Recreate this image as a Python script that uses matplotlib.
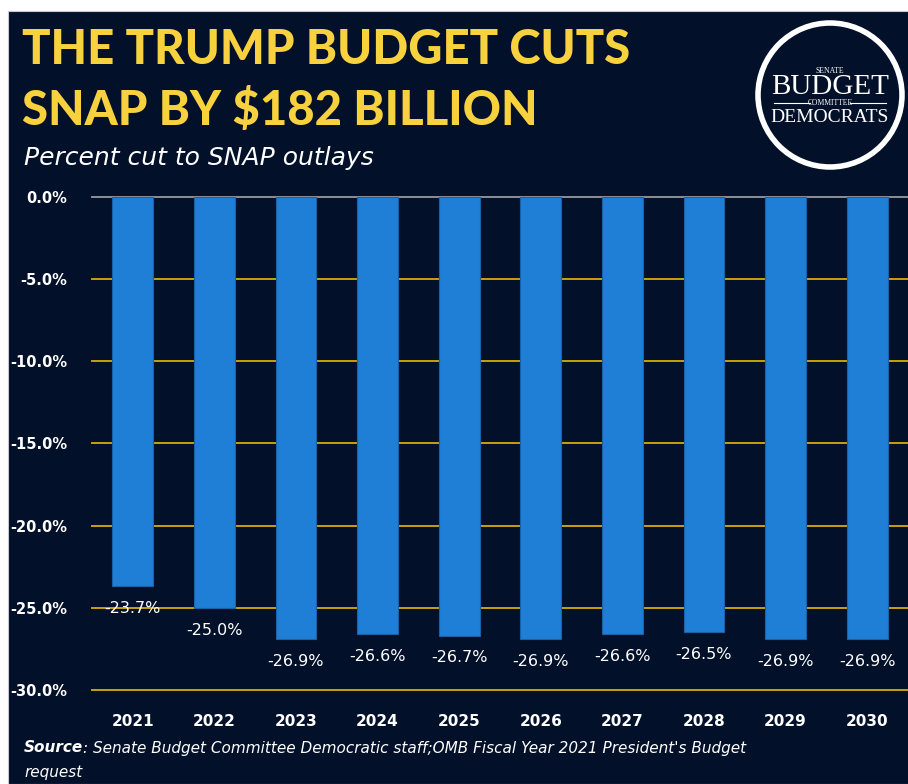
import matplotlib
matplotlib.use("Agg")
import matplotlib.pyplot as plt
from matplotlib.patches import Circle, Rectangle

years = ['2021', '2022', '2023', '2024', '2025', '2026', '2027', '2028', '2029', '2030']
cuts = [-23.7, -25.0, -26.9, -26.6, -26.7, -26.9, -26.6, -26.5, -26.9, -26.9]
yticks = [0, -5, -10, -15, -20, -25, -30]

navy = '#02102a'
gold = '#c9a00c'
blue = '#1f7fd6'
yellow = '#f7d23e'

fig = plt.figure(figsize=(9.08, 7.84), dpi=100)
fig.patch.set_facecolor('white')
# dark panel, white strip on top and left
fig.add_artist(Rectangle((8 / 908, 0), 1, 1 - 11 / 784, transform=fig.transFigure,
                         facecolor=navy, edgecolor='#c8c8c8', lw=0.8, zorder=0))

ax = fig.add_axes([92 / 908, 1 - 690 / 784, 816 / 908, 493 / 784])
ax.set_facecolor(navy)
x = range(len(years))
ax.bar(x, cuts, width=0.5, color=blue, edgecolor='#1a62a8', linewidth=0.8, zorder=3)
ax.set_xlim(-0.5, 9.5)
ax.set_ylim(-30, 0)
for t in yticks:
    ax.axhline(t, color=gold if t != 0 else '#8a8f9a', lw=1.4, zorder=1, clip_on=False)
for s in ax.spines.values():
    s.set_visible(False)
ax.set_yticks(yticks)
ax.set_yticklabels(['%.1f%%' % t for t in yticks], color='white', fontsize=10.5,
                   fontweight='semibold')
ax.set_xticks(list(x))
ax.set_xticklabels(years, color='white', fontsize=11, fontweight='bold')
ax.tick_params(length=0, axis='y', pad=18)
ax.tick_params(length=0, axis='x', pad=17)

for i, v in enumerate(cuts):
    ax.annotate('%.1f%%' % v, (i, v), xytext=(0, -16), textcoords='offset points',
                ha='center', va='center', color='white', fontsize=11.5, zorder=4)

tkw = dict(color=yellow, fontsize=34, family=['Lato', 'DejaVu Sans'], fontweight='black',
           va='center', ha='left')
fig.text(22 / 908, 1 - 50 / 784, 'THE TRUMP BUDGET CUTS', **tkw)
fig.text(22 / 908, 1 - 110 / 784, 'SNAP BY $182 BILLION', **tkw)
fig.text(24 / 908, 1 - 158 / 784, 'Percent cut to SNAP outlays', color='white', fontsize=18,
         fontstyle='italic', va='center', ha='left')

# logo on an equal-aspect axes
cx, cy = 830, 95
lax = fig.add_axes([(cx - 78) / 908, 1 - (cy + 78) / 784, 156 / 908, 156 / 784])
lax.set_xlim(-78, 78)
lax.set_ylim(-78, 78)
lax.axis('off')
lax.add_patch(Circle((0, 0), 72, facecolor=navy, edgecolor='white', lw=4))
serif = 'Liberation Serif'
lax.text(0, 24, 'SENATE', color='white', fontsize=5.5, family=serif, ha='center', va='center')
lax.text(0, 8, 'BUDGET', color='white', fontsize=21, family=serif, ha='center', va='center')
lax.text(0, -8, 'COMMITTEE', color='white', fontsize=5.5, family=serif, ha='center', va='center')
lax.plot([-56, -20], [-8, -8], color='white', lw=0.8)
lax.plot([20, 56], [-8, -8], color='white', lw=0.8)
lax.text(0, -23, 'DEMOCRATS', color='white', fontsize=14, family=serif, ha='center', va='center')

src = fig.text(24 / 908, 1 - 748 / 784, 'Source', color='white', fontsize=11, fontweight='bold',
               fontstyle='italic', va='center', ha='left')
r = fig.canvas.get_renderer()
bb = src.get_window_extent(renderer=r)
fig.text(bb.x1 / 908, 1 - 748 / 784,
         ": Senate Budget Committee Democratic staff;OMB Fiscal Year 2021 President's Budget",
         color='white', fontsize=11, fontstyle='italic', va='center', ha='left')
fig.text(24 / 908, 1 - 773 / 784, 'request', color='white', fontsize=11, fontstyle='italic',
         va='center', ha='left')

fig.savefig('out.png', dpi=100, facecolor=fig.get_facecolor())
